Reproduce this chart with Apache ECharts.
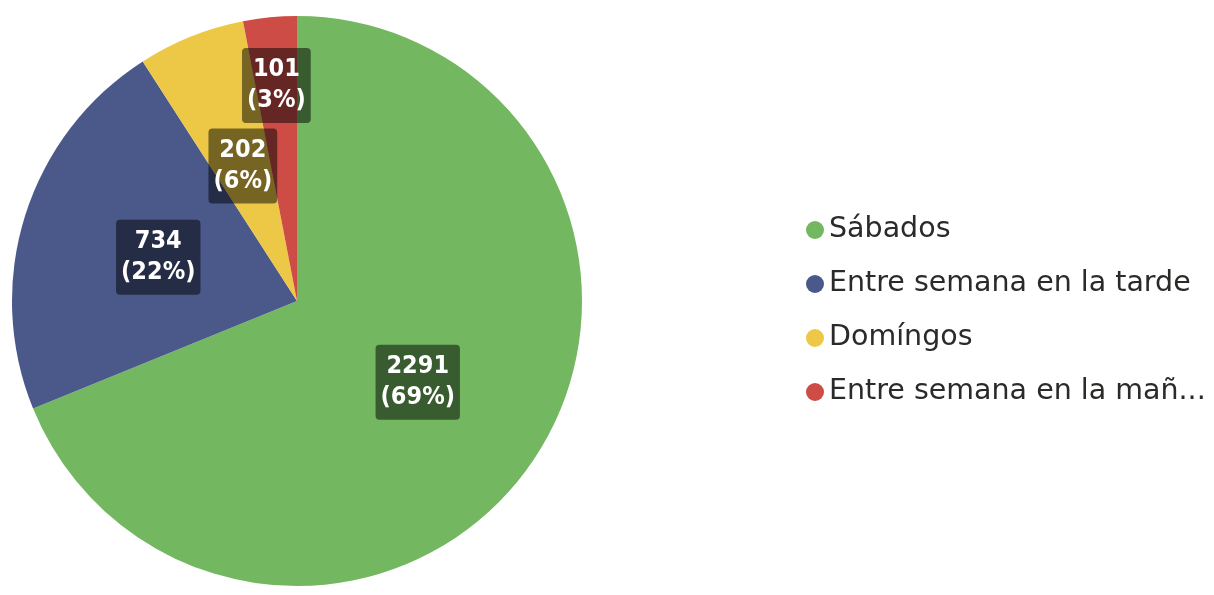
<!DOCTYPE html>
<html>
<head>
<meta charset="utf-8">
<script src="https://cdn.jsdelivr.net/npm/echarts@6/dist/echarts.min.js"></script>
<style>html,body{margin:0;padding:0;background:#fff}#c{width:1214px;height:595px}</style>
</head>
<body>
<div id="c"></div>
<script>
const categories = ['Sábados', 'Entre semana en la tarde', 'Domíngos', 'Entre semana en la mañana'];
const values = [2291, 734, 202, 101];
const colors = ['#73b761', '#4a588a', '#ecc846', '#cd4c46'];
const outerLabelIdx = [3];

const total = values.reduce((a, b) => a + b, 0);
const labelStyle = {
  formatter: p => p.value + '\n(' + Math.round(p.value / total * 100) + '%)',
  color: '#fff',
  fontFamily: 'DejaVu Sans Condensed',
  fontWeight: 'bold',
  fontSize: 25,
  lineHeight: 31,
  backgroundColor: 'rgba(0,0,0,0.5)',
  borderRadius: 4,
  padding: [7, 5, 6, 5]
};
const chart = echarts.init(document.getElementById('c'));
chart.setOption({
  animation: false,
  color: colors,
  legend: {
    orient: 'vertical',
    left: 801,
    top: 210,
    icon: 'circle',
    itemWidth: 18,
    itemHeight: 18,
    itemGap: 24,
    data: categories,
    textStyle: {
      fontFamily: 'DejaVu Sans',
      fontSize: 28.5,
      lineHeight: 30,
      color: '#2b2a29',
      width: 390,
      overflow: 'truncate',
      ellipsis: '...'
    }
  },
  series: [{
    type: 'pie',
    center: [297, 301],
    radius: [0, 285],
    startAngle: 90,
    clockwise: true,
    label: Object.assign({ show: true, position: 'inside' }, labelStyle),
    labelLine: { show: false },
    data: categories.map((n, i) => ({
      name: n, value: values[i],
      label: { show: !outerLabelIdx.includes(i) }
    }))
  }, {
    type: 'pie',
    center: [297, 301],
    radius: [142, 285],
    startAngle: 90,
    clockwise: true,
    silent: true,
    legendHoverLink: false,
    z: 3,
    itemStyle: { color: 'rgba(0,0,0,0)' },
    label: Object.assign({ show: true, position: 'inside' }, labelStyle),
    labelLine: { show: false },
    data: categories.map((n, i) => ({
      name: n, value: values[i],
      label: { show: outerLabelIdx.includes(i) }
    }))
  }]
});
</script>
</body>
</html>
